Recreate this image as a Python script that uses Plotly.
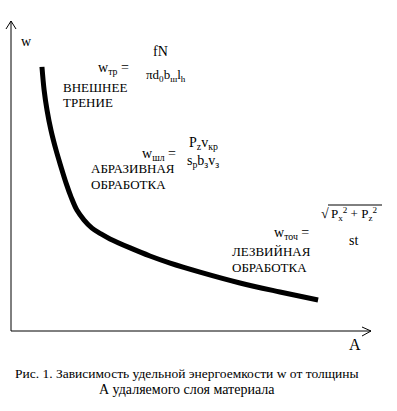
import plotly.graph_objects as go

# Schematic curve: specific energy w versus thickness A (relative units)
A_vals = [8.6, 9.2, 10.0, 11.1, 12.5, 13.9, 15.3, 16.7, 18.3, 20.3, 22.5, 25.0, 27.5,
          33.1, 38.6, 44.2, 52.5, 63.6, 74.7, 85.3]
w_vals = [85.2, 77.7, 71.3, 64.8, 58.4, 52.9, 47.7, 43.2, 39.0, 35.8, 33.2, 31.3, 29.7,
          26.8, 24.2, 21.9, 19.0, 15.5, 12.6, 10.0]

A_MAX = 100.0   # x-axis arrow end
W_MAX = 100.0   # y-axis arrow end

W, H = 397, 411
SX, SY = 3.6, 3.1
X0, Y0 = 11, 331
XR = [-X0 / SX, (W - X0) / SX]
YR = [(Y0 - H) / SY, Y0 / SY]


def P(px, py):
    return (px - X0) / SX, (Y0 - py) / SY


FONT = "Liberation Serif, Times New Roman, DejaVu Serif, serif"

fig = go.Figure()
fig.add_trace(go.Scatter(x=A_vals, y=w_vals, mode="lines",
                         line=dict(color="black", width=5, shape="spline", smoothing=1.0),
                         hoverinfo="skip", showlegend=False))

shapes = []
shapes.append(dict(type="line", xref="x", yref="y", x0=0, y0=0, x1=A_MAX, y1=0,
                   line=dict(color="black", width=1)))
shapes.append(dict(type="line", xref="x", yref="y", x0=0, y0=0, x1=0, y1=W_MAX,
                   line=dict(color="black", width=1)))
ax1, ay1 = P(362, 327)
ax2, ay2 = P(362, 336)
shapes.append(dict(type="path", xref="x", yref="y",
                   path=f"M {ax1},{ay1} L {A_MAX},0 L {ax2},{ay2}",
                   line=dict(color="black", width=1)))
bx1, by1 = P(6, 29)
bx2, by2 = P(16, 29)
shapes.append(dict(type="path", xref="x", yref="y",
                   path=f"M {bx1},{by1} L 0,{W_MAX} L {bx2},{by2}",
                   line=dict(color="black", width=1)))
sx0, sy0 = P(328, 205)
sx1, _ = P(382, 205)
shapes.append(dict(type="line", xref="x", yref="y", x0=sx0, y0=sy0, x1=sx1, y1=sy0,
                   line=dict(color="black", width=1)))

ann = []


def T(px, py, text, size=12, xanchor="left"):
    x, y = P(px, py)
    ann.append(dict(x=x, y=y, xref="x", yref="y", text=text, showarrow=False,
                    xanchor=xanchor, yanchor="middle",
                    font=dict(family=FONT, size=size, color="black")))


T(19, 41, "w", 14)
T(355, 344, "A", 16, "center")

# friction
T(96, 68, "w<sub>тр</sub> =", 14)
T(160, 51, "fN", 14, "center")
T(166, 75, "πd<sub>0</sub>b<sub>ш</sub>l<sub>h</sub>", 13, "center")
T(61, 87, "ВНЕШНЕЕ", 13)
T(61, 102, "ТРЕНИЕ", 13)

# abrasive
T(140, 154, "w<sub>шл</sub> =", 14)
T(203, 143, "P<sub>z</sub>v<sub>кр</sub>", 14, "center")
T(203, 161, "s<sub>р</sub>b<sub>з</sub>v<sub>з</sub>", 14, "center")
T(89, 168, "АБРАЗИВНАЯ", 13)
T(89, 184, "ОБРАБОТКА", 13)

# cutting
T(272, 233, "w<sub>точ</sub> =", 14)
T(319, 213, "√", 14)
T(329, 214, "P<sub>x</sub><sup>2</sup> + P<sub>z</sub><sup>2</sup>", 13)
T(353, 240, "st", 14, "center")
T(230, 251, "ЛЕЗВИЙНАЯ", 13)
T(230, 267, "ОБРАБОТКА", 13)

# caption
T(187, 373, "Рис. 1. Зависимость удельной энергоемкости w от толщины", 13.5, "center")
T(187, 389, "А удаляемого слоя материала", 14, "center")

fig.update_layout(
    width=W, height=H, margin=dict(l=0, r=0, t=0, b=0),
    paper_bgcolor="white", plot_bgcolor="white",
    xaxis=dict(range=XR, visible=False, fixedrange=True),
    yaxis=dict(range=YR, visible=False, fixedrange=True),
    shapes=shapes, annotations=ann, showlegend=False,
)
fig.write_html("out.html", config={"displayModeBar": False},
               post_script="document.body.style.margin='0';document.body.style.overflow='hidden';")
